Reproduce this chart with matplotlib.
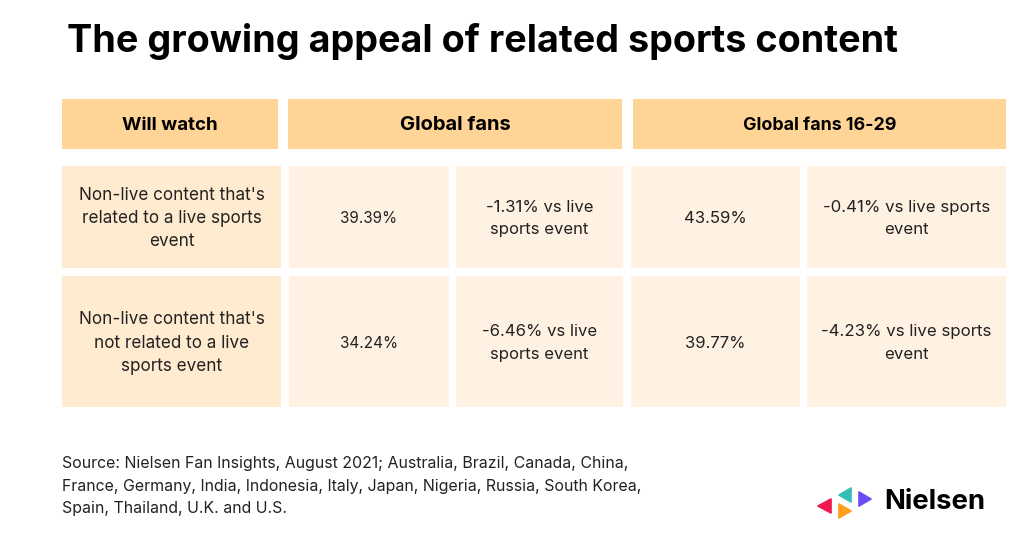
import matplotlib
matplotlib.use('Agg')
import matplotlib.pyplot as plt
from matplotlib.patches import Rectangle, Polygon

title = "The growing appeal of related sports content"
headers = ["Will watch", "Global fans", "Global fans 16-29"]
row_labels = ["Non-live content that's\nrelated to a live sports\nevent",
              "Non-live content that's\nnot related to a live\nsports event"]
global_vals = ["39.39%", "34.24%"]
global_diff = ["-1.31% vs live\nsports event", "-6.46% vs live\nsports event"]
young_vals = ["43.59%", "39.77%"]
young_diff = ["-0.41% vs live sports\nevent", "-4.23% vs live sports\nevent"]
source = ("Source: Nielsen Fan Insights, August 2021; Australia, Brazil, Canada, China,\n"
          "France, Germany, India, Indonesia, Italy, Japan, Nigeria, Russia, South Korea,\n"
          "Spain, Thailand, U.K. and U.S.")

plt.rcParams['font.family'] = ['Inter', 'DejaVu Sans']
fig = plt.figure(figsize=(10.24, 5.59), dpi=100)
ax = fig.add_axes([0, 0, 1, 1])
ax.set_xlim(0, 1024); ax.set_ylim(559, 0); ax.axis('off')

HDR = '#FFD597'; L1 = '#FFEBCF'; L2 = '#FFF2E2'; TXT = '#222222'
def cell(x0, x1, y0, y1, c, text=None, dy=1.5, ls=1.66, **kw):
    ax.add_patch(Rectangle((x0, y0), x1-x0, y1-y0, fc=c, ec='none'))
    if text:
        ax.text((x0+x1)/2, (y0+y1)/2 + dy, text, ha='center', va='center',
                linespacing=ls, color=kw.pop('color', TXT), **kw)

ax.text(67, 41, title, fontsize=27.2, fontweight='bold', color='black', va='center', ha='left')

cell(62, 278, 99, 149, HDR, headers[0], fontsize=13.5, fontweight='bold', color='black')
cell(288, 622, 99, 149, HDR, headers[1], fontsize=14.5, fontweight='bold', color='black')
cell(633, 1006, 99, 149, HDR, headers[2], fontsize=12.85, fontweight='bold', color='black')

rows = [(166, 268), (276, 407)]
for i, (y0, y1) in enumerate(rows):
    cell(62, 281, y0, y1, L1, row_labels[i], fontsize=12.3, ls=1.48)
    cell(289, 449, y0, y1, L2, global_vals[i], fontsize=11)
    cell(456, 623, y0, y1, L2, global_diff[i], fontsize=12)
    cell(631, 800, y0, y1, L2, young_vals[i], fontsize=12)
    cell(807, 1006, y0, y1, L2, young_diff[i], fontsize=12.1)

ax.text(62, 486, source, fontsize=11.45, color=TXT, va='center', ha='left', linespacing=1.6)

# logo
def tri(pts, c):
    ax.add_patch(Polygon(pts, fc=c, ec=c, lw=1.2, joinstyle='round'))
tri([[831,499],[818,506],[831,513]], '#F0184F')
tri([[851,488],[839,495],[851,502]], '#35BDB8')
tri([[859,492],[871,499],[859,506]], '#6C4CF5')
tri([[839,504],[851,511],[839,518]], '#FF9F1C')
ax.text(884, 502, "Nielsen", fontsize=19.8, fontweight='bold', color='black', va='center', ha='left')

fig.savefig('out.png', dpi=100, facecolor='white')
